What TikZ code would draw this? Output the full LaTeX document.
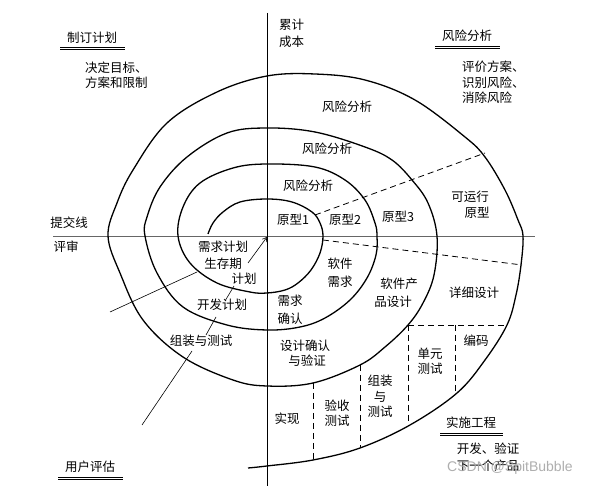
\documentclass[tikz,border=0pt]{standalone}
\usepackage{fontspec}
\newfontfamily\cjk{Noto Sans CJK SC}
\newfontfamily\wmfont{Liberation Sans}
\usetikzlibrary{arrows.meta}
\tikzset{
  txt/.style={font=\cjk\fontsize{12.5}{14}\selectfont, inner sep=0pt, anchor=center},
  spiral/.style={line width=1.3pt, black},
  axis/.style={line width=0.8pt},
  dsh/.style={line width=0.8pt, dash pattern=on 6pt off 4pt},
  leader/.style={line width=0.6pt},
  uline/.style={line width=0.6pt}
}
\begin{document}
\begin{tikzpicture}[x=1pt,y=-1pt]
\useasboundingbox (0,0) rectangle (598,486);
\fill[white] (0,0) rectangle (598,486);
% axes
\coordinate (vt) at (267,13);
\coordinate (vb) at (267,486);
\coordinate (hl) at (53,236);
\coordinate (hr) at (535,236);
\draw[axis, black!60] (hl) -- (hr);
\draw[axis] (vt) -- (vb);
% spiral
\draw[spiral] plot[smooth, tension=0.6] coordinates {
(208,234) (213,223) (223,212) (240,202) (267,199) (292,202) (312,212) (320,223) (323,236)
(320,253) (311,270) (298,283) (285,290) (267,293) (250,292) (217,283) (190,263) (178,236)
(183,207) (200,183) (233,168) (267,164) (315,167) (345,180) (365,200) (375,223) (377,236)
(376,255) (367,278) (350,300) (325,318) (300,327) (267,330) (227,325) (183,307) (157,273) (145,236)
(147,217) (160,187) (187,157) (227,133) (267,128) (315,132) (365,147) (392,160) (412,180) (428,203) (437,236)
(434,275) (423,303) (408,325) (385,347) (360,365) (313,383) (267,386) (233,380) (183,357) (143,320) (120,273) (108,236)
(117,203) (133,170) (167,123) (217,92) (267,76) (315,74) (365,80) (415,100) (465,137) (485,157) (505,190) (518,220) (523,236)
(521,265) (516,295) (507,325) (485,360) (457,393) (410,425) (360,448) (313,460) (267,466) (248,468)};
% dashed lines
\coordinate (d1a) at (315,215); \coordinate (d1b) at (485,153);
\coordinate (d2a) at (323,240); \coordinate (d2b) at (522,265);
\coordinate (d3a) at (408,325); \coordinate (d3b) at (507,325);
\coordinate (d4b) at (408,425);
\coordinate (d5a) at (455,325); \coordinate (d5b) at (455,393);
\coordinate (d6a) at (360,365); \coordinate (d6b) at (360,448);
\coordinate (d7a) at (313,383); \coordinate (d7b) at (313,461);
\draw[dsh] (d1a) -- (d1b);
\draw[dsh] (d2a) -- (d2b);
\draw[dsh] (d3a) -- (d3b);
\draw[dsh] (d3a) -- (d4b);
\draw[dsh] (d5a) -- (d5b);
\draw[dsh] (d6a) -- (d6b);
\draw[dsh] (d7a) -- (d7b);
% leaders
\coordinate (o) at (267,237);
\coordinate (l1) at (248,263);
\draw[leader, -{Straight Barb[length=4pt,width=5pt]}] (l1) -- (o);
\coordinate (l2a) at (197,272); \coordinate (l2b) at (110,312);
\draw[leader] (l2a) -- (l2b);
\coordinate (l3a) at (234,286); \coordinate (l3b) at (225,301);
\draw[leader] (l3a) -- (l3b);
\coordinate (l4a) at (216,317); \coordinate (l4b) at (206,335);
\draw[leader] (l4a) -- (l4b);
\coordinate (l5a) at (192,351); \coordinate (l5b) at (142,425);
\draw[leader] (l5a) -- (l5b);
% corner headings with double underline
\node[txt] (h1) at (92,38) {制订计划};
\draw[uline] (60,47) -- (125,47) (60,49.5) -- (125,49.5);
\node[txt] (h2) at (467,36) {风险分析};
\draw[uline] (435,46) -- (500,46) (435,48.5) -- (500,48.5);
\node[txt] (h3) at (471,423) {实施工程};
\draw[uline] (440,433) -- (503,433) (440,435.5) -- (503,435.5);
\node[txt] (h4) at (90,467) {用户评估};
\draw[uline] (58,477) -- (123,477) (58,479.5) -- (123,479.5);
% corner descriptions
\node[txt, anchor=west] (a1) at (85,68) {决定目标、};
\node[txt, anchor=west] (a2) at (85,83) {方案和限制};
\node[txt, anchor=west] (b1) at (279,25) {累计};
\node[txt, anchor=west] (b2) at (279,42) {成本};
\node[txt, anchor=west] (c1) at (462,67) {评价方案、};
\node[txt, anchor=west] (c2) at (462,83) {识别风险、};
\node[txt, anchor=west] (c3) at (462,98) {消除风险};
\node[txt] (e1) at (488,449) {开发、验证};
\node[txt] (e2) at (488,466) {下一个产品};
% left labels
\node[txt] (s1) at (69,223) {提交线};
\node[txt] (s2) at (66,247) {评审};
% risk analysis
\node[txt] (r1) at (347,107) {风险分析};
\node[txt] (r2) at (327,149) {风险分析};
\node[txt] (r3) at (308,186) {风险分析};
% prototypes
\node[txt] (p1) at (293,220) {原型1};
\node[txt] (p2) at (345,220) {原型2};
\node[txt] (p3) at (398,217) {原型3};
\node[txt] (p4a) at (470,197) {可运行};
\node[txt] (p4b) at (477,213) {原型};
% lower left
\node[txt] (q1) at (223,247) {需求计划};
\node[txt] (q2) at (223,264) {生存期};
\node[txt] (q3) at (244,279) {计划};
\node[txt] (q4) at (222,305) {开发计划};
\node[txt] (q5) at (201,341) {组装与测试};
% lower right
\node[txt] (m1) at (340,264) {软件};
\node[txt] (m2) at (340,282) {需求};
\node[txt] (m3) at (399,284) {软件产};
\node[txt] (m4) at (393,302) {品设计};
\node[txt] (m5) at (474,293) {详细设计};
\node[txt] (n1) at (290,301) {需求};
\node[txt] (n2) at (290,319) {确认};
\node[txt] (n3) at (305,346) {设计确认};
\node[txt] (n4) at (307,361) {与验证};
\node[txt] (k1) at (287,419) {实现};
\node[txt] (k2) at (337,406) {验收};
\node[txt] (k3) at (337,421) {测试};
\node[txt] (k4) at (380,381) {组装};
\node[txt] (k5) at (380,397) {与};
\node[txt] (k6) at (380,412) {测试};
\node[txt] (k7) at (430,354) {单元};
\node[txt] (k8) at (430,369) {测试};
\node[txt] (k9) at (476,341) {编码};
% watermark
\node[font=\wmfont\fontsize{14}{16}\selectfont, text=black!35, inner sep=0pt, anchor=west, opacity=0.9] (wm) at (447,468) {CSDN @SpitBubble};
\end{tikzpicture}
\end{document}
